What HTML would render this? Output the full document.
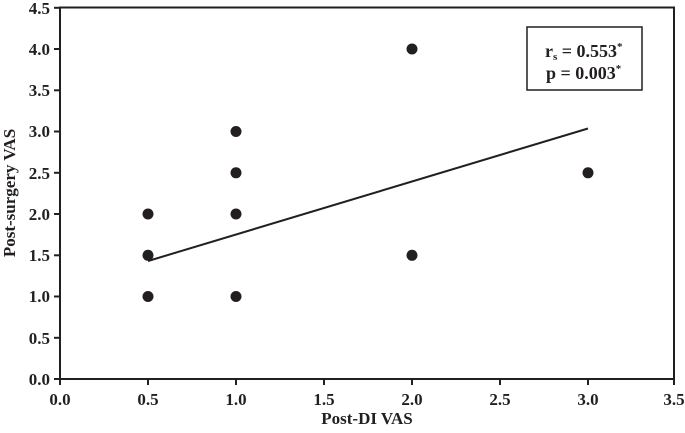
<!DOCTYPE html><html><head><style>body{margin:0;background:#fff}</style></head><body>
<svg width="685" height="428" xmlns="http://www.w3.org/2000/svg" font-family="Liberation Serif, serif" font-weight="bold" fill="#231f20">
<rect x="60" y="7.5" width="614" height="371.5" fill="none" stroke="#231f20" stroke-width="2"/>
<g stroke="#231f20" stroke-width="2">
<line x1="54" y1="379" x2="60" y2="379"/><line x1="54" y1="337.8" x2="60" y2="337.8"/><line x1="54" y1="296.5" x2="60" y2="296.5"/><line x1="54" y1="255.3" x2="60" y2="255.3"/><line x1="54" y1="214" x2="60" y2="214"/><line x1="54" y1="172.8" x2="60" y2="172.8"/><line x1="54" y1="131.5" x2="60" y2="131.5"/><line x1="54" y1="90.3" x2="60" y2="90.3"/><line x1="54" y1="49" x2="60" y2="49"/><line x1="54" y1="7.8" x2="60" y2="7.8"/>
<line x1="60" y1="379" x2="60" y2="385"/><line x1="148" y1="379" x2="148" y2="385"/><line x1="236" y1="379" x2="236" y2="385"/><line x1="324" y1="379" x2="324" y2="385"/><line x1="412" y1="379" x2="412" y2="385"/><line x1="500" y1="379" x2="500" y2="385"/><line x1="588" y1="379" x2="588" y2="385"/><line x1="674" y1="379" x2="674" y2="385"/>
<line x1="148" y1="261" x2="588" y2="128.5"/>
</g>
<g font-size="17" text-anchor="end">
<text x="50" y="385">0.0</text><text x="50" y="344">0.5</text><text x="50" y="302">1.0</text><text x="50" y="261">1.5</text><text x="50" y="220">2.0</text><text x="50" y="179">2.5</text><text x="50" y="137">3.0</text><text x="50" y="96">3.5</text><text x="50" y="55">4.0</text><text x="50" y="14">4.5</text>
</g>
<g font-size="17" text-anchor="middle">
<text x="60" y="405">0.0</text><text x="148" y="405">0.5</text><text x="236" y="405">1.0</text><text x="324" y="405">1.5</text><text x="412" y="405">2.0</text><text x="500" y="405">2.5</text><text x="588" y="405">3.0</text><text x="674" y="405">3.5</text>
<text x="367" y="424" font-size="17">Post-DI VAS</text>
<text transform="translate(15,193) rotate(-90)" font-size="17">Post-surgery VAS</text>
</g>
<g>
<circle cx="148" cy="214" r="5.5"/><circle cx="148" cy="255.3" r="5.5"/><circle cx="148" cy="296.5" r="5.5"/>
<circle cx="236" cy="131.5" r="5.5"/><circle cx="236" cy="172.8" r="5.5"/><circle cx="236" cy="214" r="5.5"/><circle cx="236" cy="296.5" r="5.5"/>
<circle cx="412" cy="49" r="5.5"/><circle cx="412" cy="255.3" r="5.5"/><circle cx="588" cy="172.8" r="5.5"/>
</g>
<rect x="527" y="27" width="115" height="63" fill="#fff" stroke="#231f20" stroke-width="1.5"/>
<text x="545" y="57" font-size="18">r<tspan font-size="11" dy="3">s</tspan><tspan dy="-3"> = 0.553</tspan><tspan font-size="11" dy="-7">*</tspan></text>
<text x="546" y="79" font-size="18">p = 0.003<tspan font-size="11" dy="-7">*</tspan></text>
</svg>
</body></html>
